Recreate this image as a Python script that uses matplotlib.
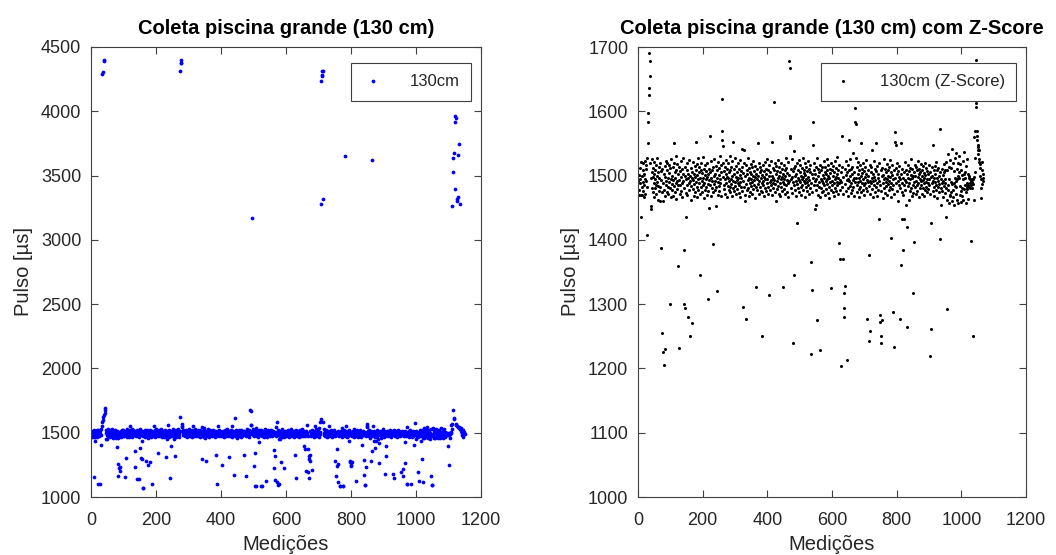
import numpy as np
import matplotlib
matplotlib.use("Agg")
import matplotlib.pyplot as plt

# Pulse width readings (microseconds) of the large pool, 130 cm depth, in acquisition order
pulso_us = [
    1492, 1478, 1501, 1470, 1488, 1512, 1495, 1157, 1470, 1521,
    1436, 1483, 1470, 1499, 1508, 1476, 1519, 1490, 1466, 1105,
    1503, 1486, 1522, 1495, 1472, 1510, 1100, 1491, 1517, 1408,
    1483, 1528, 1550, 1584, 4293, 1597, 4302, 1625, 4398, 4392,
    1636, 1690, 1655, 1678, 1520, 1497, 1452, 1448, 1505, 1481, 1526,
    1498, 1474, 1512, 1489, 1503, 1467, 1521, 1494, 1480, 1509,
    1486, 1517, 1471, 1499, 1528, 1490, 1462, 1505, 1484, 1513,
    1476, 1496, 1520, 1482, 1461, 1507, 1493, 1388, 1474, 1511,
    1255, 1460, 1165, 1489, 1225, 1502, 1205, 1478, 1231, 1515,
    1498, 1469, 1523, 1486, 1492, 1474, 1508, 1520, 1483, 1496,
    1471, 1517, 1490, 1504, 1152, 1481, 1512, 1301, 1495, 1466,
    1526, 1487, 1500, 1478, 1513, 1493, 1469, 1520, 1551, 1484,
    1506, 1475, 1497, 1530, 1488, 1463, 1509, 1491, 1518, 1479,
    1502, 1485, 1359, 1514, 1232, 1493, 1471, 1507, 1486, 1523,
    1139, 1498, 1476, 1510, 1489, 1139, 1467, 1503, 1492, 1527,
    1385, 1481, 1301, 1499, 1294, 1514, 1436, 1473, 1068, 1072,
    1495, 1508, 1485, 1519, 1470, 1497, 1280, 1503, 1488, 1524,
    1478, 1500, 1250, 1491, 1462, 1512, 1484, 1496, 1271, 1506,
    1479, 1521, 1493, 1468, 1502, 1105, 1487, 1515, 1498, 1474,
    1509, 1553, 1490, 1482, 1518, 1466, 1501, 1494, 1527, 1477, 1505,
    1488, 1513, 1471, 1496, 1345, 1508, 1483, 1520, 1492, 1475,
    1504, 1486, 1529, 1497, 1465, 1510, 1489, 1501, 1478, 1516,
    1494, 1483, 1507, 1470, 1498, 1519, 1487, 1502, 1308, 1476,
    1449, 1511, 1493, 1562, 1485, 1505, 1468, 1522, 1496, 1480,
    1144, 1509, 1491, 1393, 1474, 1514, 1499, 1487, 1526, 1478,
    1503, 1492, 1452, 1515, 1483, 1497, 1321, 1508, 1470, 1521,
    1490, 1501, 1484, 1512, 1476, 1495, 1530, 1488, 1506, 1469,
    1517, 4315, 1619, 4376, 4372, 4398, 1569, 1555, 1546, 1498,
    1520, 1486, 1507, 1479, 1513, 1494, 1472, 1502, 1525, 1489,
    1498, 1466, 1510, 1484, 1519, 1496, 1477, 1505, 1491, 1530, 1482,
    1508, 1474, 1495, 1514, 1487, 1500, 1468, 1522, 1492, 1553,
    1481, 1503, 1476, 1511, 1490, 1527, 1484, 1498, 1471, 1515,
    1493, 1506, 1479, 1488, 1519, 1497, 1473, 1510, 1485, 1501,
    1524, 1490, 1467, 1507, 1482, 1496, 1542, 1476, 1513, 1295,
    1491, 1504, 1483, 1520, 1540, 1470, 1499, 1461, 1516, 1487,
    1277, 1502, 1478, 1509, 1493, 1528, 1481, 1497, 1469, 1512,
    1488, 1505, 1475, 1518, 1495, 1484, 1502, 1471, 1514, 1490,
    1500, 1479, 1523, 1493, 1486, 1507, 1465, 1498, 1515, 1482,
    1326, 1503, 1477, 1494, 1105, 1510, 1550, 1487, 1499, 1472,
    1519, 1491, 1505, 1483, 1513, 1496, 1476, 1508, 1251, 1489,
    1501, 1474, 1516, 1492, 1485, 1507, 1468, 1498, 1521, 1480,
    1494, 1511, 1476, 1503, 1488, 1526, 1495, 1471, 1509, 1483,
    1500, 1315, 1517, 1490, 1478, 1505, 1493, 1522, 1486, 1553,
    1499, 1470, 1512, 1488, 1496, 1170, 1481, 1508, 1615, 1493,
    1474, 1519, 1487, 1502, 1460, 1515, 1491, 1479, 1507, 1497,
    1484, 1525, 1472, 1500, 1513, 1489, 1468, 1506, 1494, 1520,
    1482, 1498, 1476, 1511, 1490, 1503, 1326, 1487, 1517, 1479,
    1495, 1508, 1471, 1165, 1499, 1528, 1485, 1512, 1493, 1474,
    1504, 1489, 1521, 1466, 1501, 1492, 1678, 1667, 1562, 1559,
    1495, 3169, 1510, 1481, 1498, 1526, 1473, 1239, 1507, 1490,
    1345, 1512, 1084, 1088, 1486, 1538, 1499, 1477, 1515, 1492,
    1503, 1469, 1520, 1487, 1426, 1496, 1509, 1480, 1524, 1493,
    1084, 1082, 1474, 1506, 1490, 1517, 1483, 1500, 1470, 1512,
    1494, 1485, 1527, 1498, 1126, 1478, 1509, 1491, 1504, 1467,
    1519, 1488, 1501, 1482, 1513, 1495, 1476, 1507, 1490, 1523,
    1486, 1498,
    1472, 1510, 1493, 1505, 1480, 1516, 1223, 1489, 1365, 1502,
    1131, 1322, 1475, 1496, 1547, 1113, 1583, 1508, 1485, 1520,
    1094, 1098, 1491, 1448, 1503, 1477, 1513, 1455, 1494, 1275, 1486,
    1528, 1499, 1470, 1511, 1490, 1483, 1505, 1467, 1228, 1517,
    1495, 1481, 1508, 1492, 1474, 1514, 1489, 1501, 1476, 1522,
    1497, 1485, 1506, 1470, 1513, 1491, 1502, 1479, 1526, 1494,
    1487, 1508, 1473, 1499, 1517, 1483, 1496, 1465, 1511, 1490,
    1504, 1478, 1325, 1520, 1492, 1144, 1486, 1509, 1474, 1500,
    1515, 1489, 1468, 1506, 1494, 1523, 1481, 1498, 1512, 1476,
    1490, 1503, 1485, 1529, 1471, 1496, 1509, 1488, 1517, 1395,
    1371, 1493, 1478, 1204, 1505, 1490, 1514, 1483, 1562, 1498,
    1370, 1472, 1196, 1147, 1317, 1294, 1280, 1510, 1328, 1487,
    1501, 1476, 1522, 1213, 1493, 1506, 1480, 1517, 1495, 1469,
    1508, 1555, 1491, 1484, 1499, 1526, 1473, 1511, 1488, 1502,
    1477, 1514, 1493, 1482, 1535, 1497, 1468, 1505, 1490, 1583,
    1605, 4233, 3282, 4280, 4272, 4315, 4310, 1581, 3318, 1528,
    1496, 1486, 1513, 1475, 1503, 1490, 1521, 1479, 1497, 1508,
    1466, 1492, 1516, 1483, 1500, 1550, 1474, 1511, 1489, 1504,
    1477, 1519, 1495, 1485, 1507, 1470, 1498, 1514, 1488, 1502,
    1481, 1524, 1493, 1476, 1277, 1509, 1490, 1165, 1500, 1243,
    1484, 1376,
    1118, 1517, 1258, 1492, 1471, 1506, 1084, 1088, 1488, 1513,
    1479, 1497, 1540, 1466, 1502, 1491, 1084, 1086, 1523, 1485,
    1498, 1474, 1510, 3651, 1493, 1482, 1507, 1550, 1489, 1469,
    1515, 1496, 1478, 1503, 1433, 1520, 1491, 1283, 1272, 1485,
    1240, 1508, 1250, 1476, 1499, 1275, 1512, 1488, 1501, 1465,
    1494, 1526,
    1480, 1497, 1511, 1473, 1126, 1490, 1505, 1484, 1518, 1495,
    1470, 1509, 1487, 1500, 1477, 1514, 1492, 1483, 1525, 1498,
    1467, 1506, 1489, 1403, 1501, 1479, 1516, 1494, 1288, 1485,
    1170, 1508, 1094, 1097, 1233, 1471, 1497, 1568, 1553, 1548, 1512,
    1488, 1503, 1476, 1520, 1492, 1461, 1507, 1485, 1498, 1515,
    1481, 1277, 1494, 1361, 3621, 1502, 1550, 1474, 1433, 1510,
    1489, 1385, 1497, 1470, 1505, 1433, 1486, 1521, 1493, 1478,
    1509, 1455, 1490, 1420, 1503, 1265, 1484, 1516, 1497, 1462,
    1507, 1489, 1476, 1512, 1494, 1481, 1501, 1526, 1468, 1496,
    1510, 1485, 1499, 1178, 1473, 1317, 1506, 1397, 1490, 1517,
    1483, 1500, 1471, 1514, 1492, 1486, 1508, 1476, 1498, 1523,
    1489, 1503, 1466, 1511, 1494, 1480, 1506, 1178, 1491, 1144,
    1518, 1485, 1499, 1472, 1509, 1493, 1481, 1515, 1497, 1468,
    1504, 1488, 1520, 1477, 1501, 1490, 1512, 1483, 1495, 1474,
    1507, 1489, 1191, 1502, 1479, 1517, 1494, 1165, 1485, 1220,
    1506, 1471, 1498, 1427, 1261, 1513, 1488, 1500, 1476, 1547,
    1100, 1103, 1492, 1509, 1482, 1496, 1469, 1515, 1490, 1503, 1478,
    1521, 1486, 1100, 1497, 1465, 1508, 1491, 1483, 1512, 1474,
    1499, 1487, 1402, 1505, 1572, 1480, 1494, 1455, 1510, 1489,
    1476, 1501, 1492, 1467, 1191, 1506, 1126, 1484, 1518, 1495,
    1473, 1509, 1488, 1436, 1521, 1480, 1292, 1509, 1462, 1118,
    1478, 1533, 1486, 1458, 1513, 1494, 1470, 1525, 1469, 1490,
    1512, 1475, 1541, 1487, 1460, 1478, 1519, 1466, 1507, 1489,
    1455, 1496, 1162, 1484, 1527, 1092, 1095, 1472, 1491, 1535, 1483,
    1510, 1462, 1494, 1519, 1500, 1457, 1497, 1530, 1505, 1470,
    1484, 1518, 1476, 1508, 1459, 1481, 1501, 1468, 1522, 1495,
    1462, 1503, 1479, 1536, 1497, 1485, 1506, 1474, 1515, 1458,
    1488, 1482, 1526, 1479, 1502, 1463, 1485, 1497, 1483, 1499,
    1488, 1494, 1480, 1492, 1398, 1486, 1495, 1481, 1490, 1251,
    1487, 1494, 1462, 1560, 1498, 1505, 1527, 3263, 1570, 3527,
    1680, 3640, 1613, 3673, 1607, 3392, 3963, 3919, 1570, 3950,
    1562, 3301, 1555, 3318, 1548, 3660, 3337, 1545, 3745, 1540,
    3280, 1533, 1526, 1540, 1521, 1512, 1500, 1518, 1480, 1495,
    1465, 1508, 1521, 1487, 1496, 1502, 1491,
]

# Accepted pulse range after the Z-Score outlier screening
faixa_valida_us = (1200, 1700)

titulo_bruto = "Coleta piscina grande (130 cm)"
titulo_filtrado = "Coleta piscina grande (130 cm) com Z-Score"
legenda_bruto = "130cm"
legenda_filtrado = "130cm (Z-Score)"
rotulo_x = "Medições"
rotulo_y = "Pulso [µs]"

pulso = np.asarray(pulso_us, dtype=float)
medicoes = np.arange(1, pulso.size + 1)

manter = (pulso >= faixa_valida_us[0]) & (pulso <= faixa_valida_us[1])
pulso_filtrado = pulso[manter]
medicoes_filtrado = np.arange(1, pulso_filtrado.size + 1)

plt.rcParams["font.family"] = ["Liberation Sans", "DejaVu Sans"]

cor_eixo = "#404040"
cor_texto = "#262626"

fig = plt.figure(figsize=(10.56, 5.55), dpi=100)
ax1 = fig.add_axes([91 / 1056, 58 / 555, 390 / 1056, 450 / 555])
ax2 = fig.add_axes([638 / 1056, 58 / 555, 388 / 1056, 450 / 555])


def estilo(ax, yticks, ylim):
    ax.set_xlim(0, 1200)
    ax.set_xticks(np.arange(0, 1201, 200))
    ax.set_ylim(*ylim)
    ax.set_yticks(yticks)
    ax.tick_params(direction="in", length=5, width=0.8, top=True, right=True,
                   labelsize=13, colors=cor_eixo, labelcolor=cor_texto)
    ax.tick_params(axis="x", pad=11)
    ax.tick_params(axis="y", pad=7)
    for s in ax.spines.values():
        s.set_color(cor_eixo)
        s.set_linewidth(0.8)
    ax.set_xlabel(rotulo_x, fontsize=14.5, color=cor_texto, labelpad=4)
    ax.set_ylabel(rotulo_y, fontsize=14.5, color=cor_texto, labelpad=6)


ax1.plot(medicoes, pulso, linestyle="none", marker="o", markersize=2.7,
         markeredgewidth=0, color=(0, 0, 1), label=legenda_bruto)
estilo(ax1, np.arange(1000, 4501, 500), (1000, 4500))
ax1.set_title(titulo_bruto, fontsize=14.5, fontweight="bold", color="black", pad=9)

ax2.plot(medicoes_filtrado, pulso_filtrado, linestyle="none", marker="o",
         markersize=2.2, markeredgewidth=0, color="black", label=legenda_filtrado)
estilo(ax2, np.arange(1000, 1701, 100), (1000, 1700))
ax2.set_title(titulo_filtrado, fontsize=14.5, fontweight="bold", color="black", pad=9)

for ax in (ax1, ax2):
    leg = ax.legend(loc="upper right", bbox_to_anchor=(0.975, 0.965),
                    fontsize=12, frameon=True, fancybox=False, framealpha=1,
                    edgecolor=cor_eixo, handlelength=1.2, handletextpad=1.6,
                    borderpad=0.7, borderaxespad=0, markerscale=1.0)
    leg.get_frame().set_linewidth(0.8)
    for t in leg.get_texts():
        t.set_color(cor_texto)

fig.savefig("out.png", dpi=100)
